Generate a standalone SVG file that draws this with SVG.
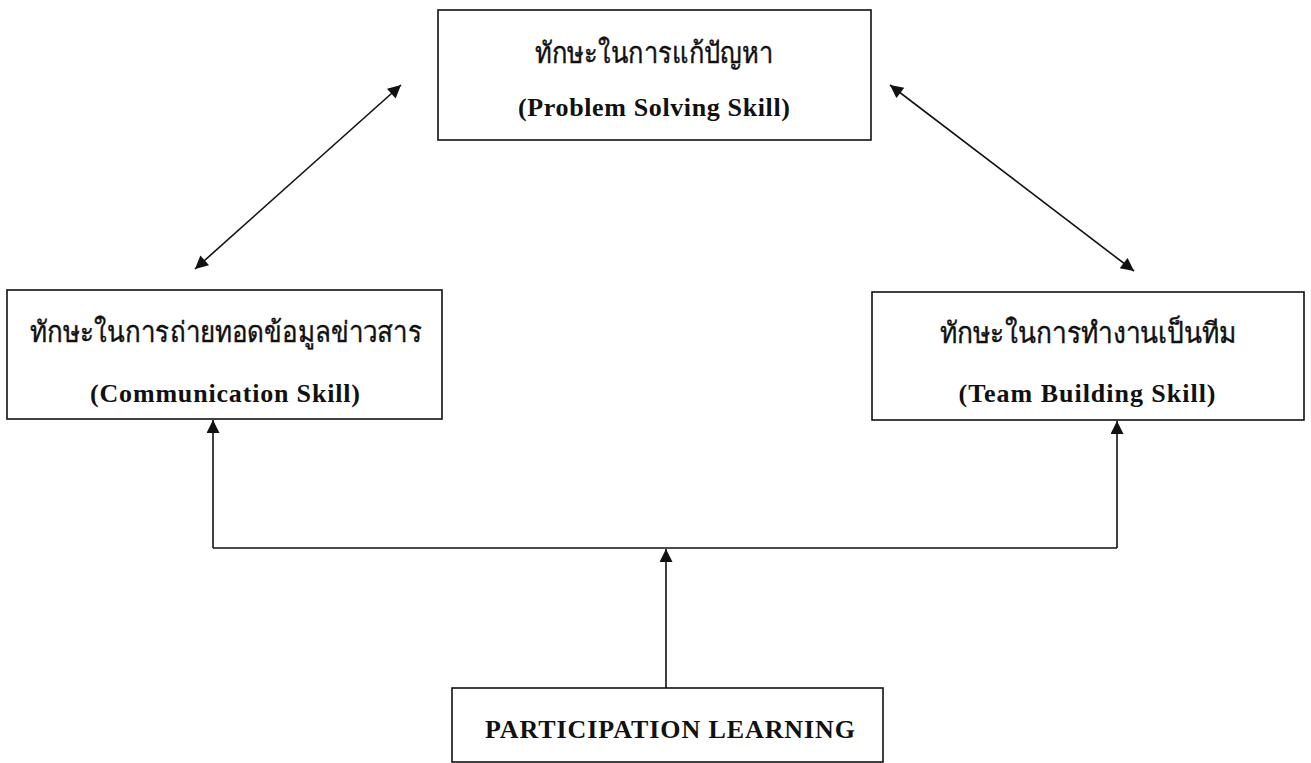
<svg xmlns="http://www.w3.org/2000/svg" width="1311" height="763" viewBox="0 0 1311 763">
<defs>
<style>
.box{fill:#fff;stroke:#111;stroke-width:1.6}
.th{font-family:"Liberation Serif","DejaVu Serif",serif;font-size:29px;fill:#111;stroke:#111;stroke-width:0.4;text-anchor:middle}
.en{font-family:"Liberation Serif",serif;font-weight:bold;font-size:26px;fill:#111;text-anchor:middle}
.ln{fill:none;stroke:#111;stroke-width:1.6}
</style>
<marker id="ah" viewBox="0 0 10 10" refX="10" refY="5" markerUnits="userSpaceOnUse" markerWidth="15" markerHeight="13" orient="auto-start-reverse">
<path d="M0,0 L10,5 L0,10 z" fill="#111"/>
</marker>
</defs>
<rect width="1311" height="763" fill="#fff"/>
<g id="connectors">
<line class="ln" x1="195" y1="269" x2="401" y2="85" marker-start="url(#ah)" marker-end="url(#ah)"/>
<line class="ln" x1="890" y1="85" x2="1134" y2="271" marker-start="url(#ah)" marker-end="url(#ah)"/>
<line class="ln" x1="666" y1="688" x2="666" y2="549" marker-end="url(#ah)"/>
<line class="ln" x1="213" y1="548" x2="1117" y2="548"/>
<line class="ln" x1="213" y1="548" x2="213" y2="420" marker-end="url(#ah)"/>
<line class="ln" x1="1117" y1="548" x2="1117" y2="421" marker-end="url(#ah)"/>
</g>
<g id="problem">
<rect class="box" x="438" y="10" width="433" height="130"/>
<text class="th" x="654" y="63" textLength="238" lengthAdjust="spacingAndGlyphs">ทักษะในการแก้ปัญหา</text>
<text class="en" x="654" y="116" textLength="272">(Problem Solving Skill)</text>
</g>
<g id="communication">
<rect class="box" x="7" y="290" width="435" height="129"/>
<text class="th" x="226" y="342" textLength="392" lengthAdjust="spacingAndGlyphs">ทักษะในการถ่ายทอดข้อมูลข่าวสาร</text>
<text class="en" x="225" y="402" textLength="270">(Communication Skill)</text>
</g>
<g id="team">
<rect class="box" x="872" y="292" width="432" height="128"/>
<text class="th" x="1088" y="343" textLength="297" lengthAdjust="spacingAndGlyphs">ทักษะในการทำงานเป็นทีม</text>
<text class="en" x="1087" y="402" textLength="257">(Team Building Skill)</text>
</g>
<g id="participation">
<rect class="box" x="452" y="688" width="431" height="74"/>
<text class="en" x="670" y="738" textLength="370">PARTICIPATION LEARNING</text>
</g>
</svg>
